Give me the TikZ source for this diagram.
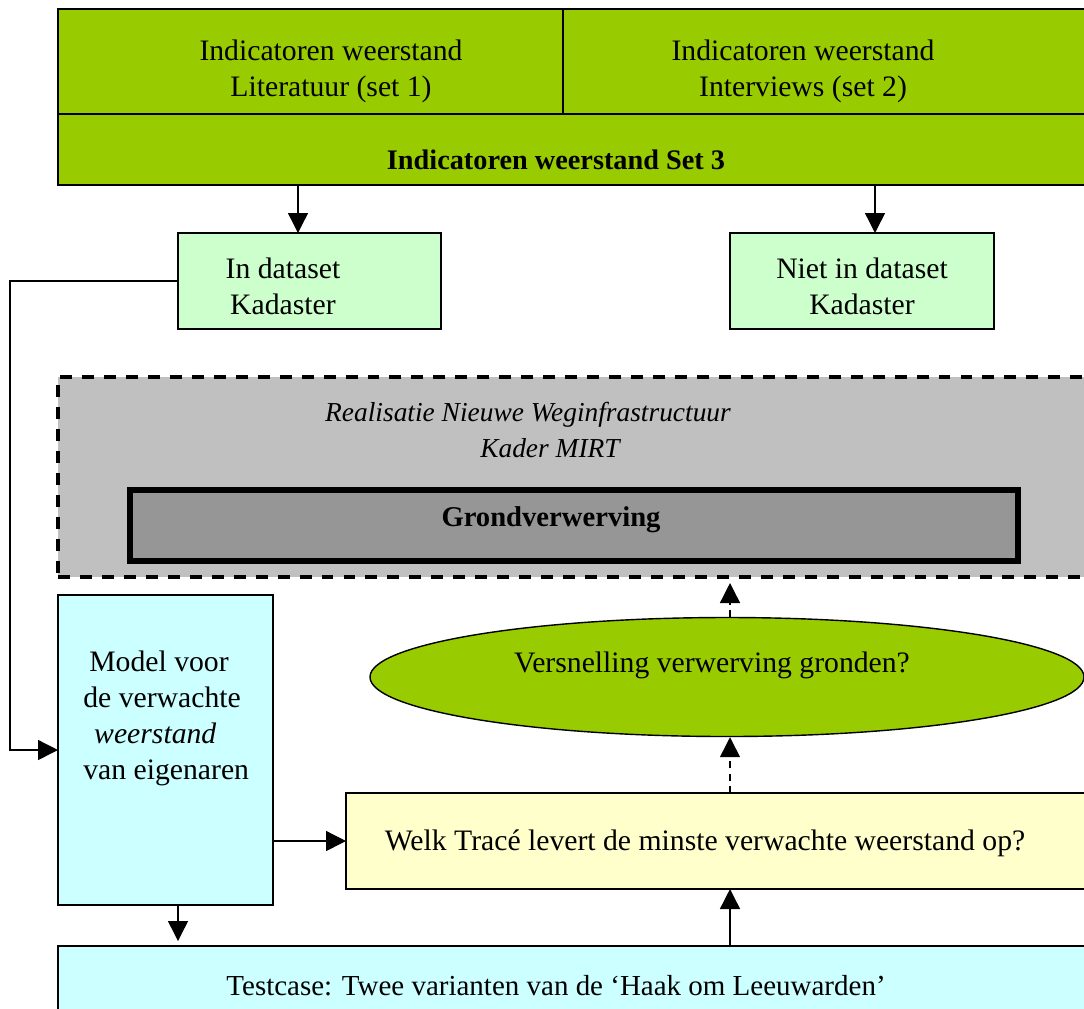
\documentclass[tikz,border=0pt]{standalone}
\usepackage{fontspec}
\setmainfont{Liberation Serif}
\usetikzlibrary{arrows.meta,shapes.geometric}

\definecolor{lime}{HTML}{99CC00}
\definecolor{mint}{HTML}{CCFFCC}
\definecolor{cyanl}{HTML}{CCFFFF}
\definecolor{paley}{HTML}{FFFFCC}
\definecolor{grayA}{HTML}{C0C0C0}
\definecolor{grayB}{HTML}{969696}

\begin{document}
\begin{tikzpicture}[x=0.02cm,y=-0.02cm,
  box/.style={draw=black, line width=0.8pt, inner sep=0pt, outer sep=0pt, anchor=north west},
  sz/.style 2 args={minimum width=#1*0.02cm, minimum height=#2*0.02cm},
  txt/.style={font=\fontsize{16.9}{20.5}\selectfont, align=center, inner sep=0pt},
  arr/.style={-{Triangle[width=0.4cm,length=0.4cm]}, line width=0.8pt},
  darr/.style={arr, dash pattern=on 4pt off 3pt}]

\useasboundingbox (0,0) rectangle (1084,1008);
\clip (0,0) rectangle (1084,1008);

% indicator sets
\node[box, fill=lime, sz={505}{105}] (lit) at (58,9) {};
\node[box, fill=lime, sz={545}{105}] (int) at (563,9) {};
\node[box, fill=lime, sz={1050}{71}] (set3) at (58,114) {};
\node[txt] (littxt) at (331,71) {Indicatoren weerstand\\Literatuur (set 1)};
\node[txt] (inttxt) at (803,71) {Indicatoren weerstand\\Interviews (set 2)};
\node[txt, font=\fontsize{16.1}{20.5}\selectfont\bfseries] (set3txt) at (556,160) {Indicatoren weerstand Set 3};

% dataset split
\node[box, fill=mint, sz={263}{96}] (indata) at (178,233) {};
\node[txt] (indatatxt) at (283,286) {In dataset\\Kadaster};
\node[box, fill=mint, sz={264}{96}] (niet) at (730,233) {};
\node[txt] (niettxt) at (862,286) {Niet in dataset\\Kadaster};

% MIRT frame
\node[box, fill=grayA, line width=1.8pt, dash pattern=on 6.8pt off 5.7pt, sz={1060}{200}] (mirt) at (58,377) {};
\node[txt, font=\fontsize{15.6}{20.5}\selectfont\itshape] (mirttxt) at (528,430)
  {Realisatie Nieuwe Weginfrastructuur\\\hspace*{25pt}Kader MIRT};
\node[box, fill=grayB, line width=3.4pt, sz={888}{71}] (grond) at (130,490) {};
\node[txt, font=\fontsize{16.3}{20.5}\selectfont\bfseries] (grondtxt) at (551,520) {Grondverwerving};

% model
\node[box, fill=cyanl, sz={215}{310}] (model) at (58,595) {};
\node[txt, align=left, anchor=west] (modeltxt) at (83,718)
  {\hspace*{3.4pt}Model voor\\de verwachte\\\hspace*{6.2pt}\textit{weerstand}\\van eigenaren};

% questions
\node[draw=black, fill=lime, ellipse, line width=0.8pt, inner sep=0pt,
  minimum width=714*0.02cm, minimum height=119*0.02cm] (vers) at (727,677) {};
\node[txt] (verstxt) at (712,665) {Versnelling verwerving gronden?};
\node[box, fill=paley, sz={760}{96}] (welk) at (346,793) {};
\node[txt] (welktxt) at (705,843) {Welk Tracé levert de minste verwachte weerstand op?};

% test case
\node[box, fill=cyanl, sz={1050}{100}] (test) at (58,946) {};
\node[txt, font=\fontsize{16.5}{20.5}\selectfont] (testtxt) at (556,986) {Testcase: Twee varianten van de ‘Haak om Leeuwarden’};

% connectors
\coordinate (bend) at (10,750);
\draw[arr] (298,0 |- set3.south) -- (298,0 |- indata.north);
\draw[arr] (875,0 |- set3.south) -- (875,0 |- niet.north);
\draw[arr] (indata.west) -| (bend) -- (model.west);
\draw[arr] (model.east |- welk.west) -- (welk.west);
\draw[arr, shorten >=0.1cm] (178,0 |- model.south) -- (178,0 |- test.north);
\draw[arr] (730,0 |- test.north) -- (730,0 |- welk.south);
\draw[darr] (730,0 |- welk.north) -- (730,0 |- vers.south);
\draw[darr, shorten >=0.12cm] (730,0 |- vers.north) -- (730,0 |- mirt.south);
\end{tikzpicture}
\end{document}
